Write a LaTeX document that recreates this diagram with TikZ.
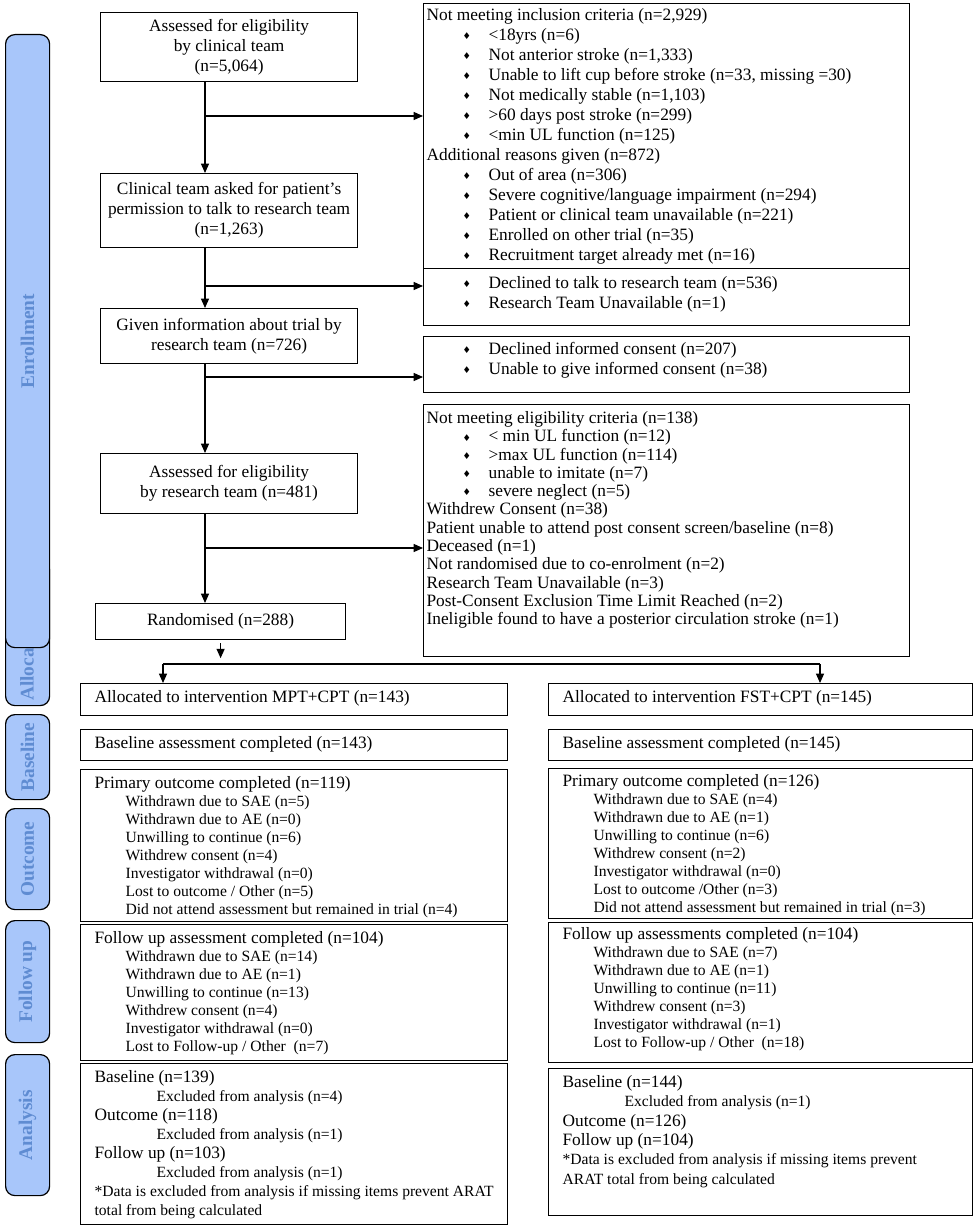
\documentclass[tikz,border=0pt]{standalone}
\usepackage{fontspec}
\setmainfont{Liberation Serif}
\newfontfamily\symfont{DejaVu Sans}
\usetikzlibrary{arrows.meta}

\newdimen\pxu \pxu=0.75pt
\definecolor{phasefill}{RGB}{168,198,250}
\definecolor{phasetext}{RGB}{95,140,210}

% text block of a box: [left pad]{width}{height}{first baseline}{lines}
\newcommand{\inbox}[5][14]{\parbox[c][#3\pxu][t]{#2\pxu}{\raggedright\leftskip=#1\pxu\rule{0pt}{#4\pxu}#5}}
\newcommand{\dmd}{\raisebox{0.6pt}{\symfont\fontsize{7}{7}\selectfont ♦}}
\newcommand{\bul}[1]{\hspace*{36\pxu}\makebox[26\pxu][l]{\dmd}#1\par}
\newcommand{\hd}[1]{{\fontsize{13}{13.5}\selectfont #1}\par}
\newcommand{\subl}[2][31]{\hspace*{#1\pxu}#2\par}

\begin{document}
\begin{tikzpicture}[x=0.75pt, y=-0.75pt,
	mainbox/.style={draw, line width=0.9pt, anchor=north west, align=center, inner sep=0pt, font=\fontsize{13}{15}\selectfont},
	listbox/.style={draw, line width=0.9pt, anchor=north west, inner sep=0pt, font=\fontsize{13}{15}\selectfont},
	armbox/.style={listbox, font=\fontsize{11.7}{13.5}\selectfont},
	phase/.style={draw, line width=0.9pt, rounded corners=7pt, fill=phasefill, anchor=north west, inner sep=0pt, minimum width=44\pxu},
	phaselabel/.style={rotate=90, text=phasetext, font=\fontsize{14.5}{16}\selectfont\bfseries},
	arr/.style={line width=0.9pt, -{Triangle[width=6pt,length=7pt]}}]
	\useasboundingbox (0,0) rectangle (974,1227);
	
	%phase bars on the left
	\node[phase, minimum height=145\pxu] (allocbar) at (5,560) {};
	\node[phaselabel, anchor=west, inner sep=0pt] (alloclbl) at (27,701) {Allocation};
	\node[phase, minimum height=613\pxu] (enrolbar) at (5,34) {};
	\node[phaselabel] (enrollbl) at (enrolbar.center) {Enrollment};
	\node[phase, minimum height=85\pxu] (basebar) at (5,714) {};
	\node[phaselabel] (baselbl) at (basebar.center) {Baseline};
	\node[phase, minimum height=101\pxu] (outbar) at (5,808) {};
	\node[phaselabel] (outlbl) at (outbar.center) {Outcome};
	\node[phase, minimum height=122\pxu] (folbar) at (5,920) {};
	\node[phaselabel] (follbl) at (folbar.center) {Follow up};
	\node[phase, minimum height=141\pxu] (anabar) at (5,1054) {};
	\node[phaselabel] (analbl) at (anabar.center) {Analysis};
	
	%enrollment steps
	\node[mainbox, minimum width=257\pxu, minimum height=69\pxu] (elig1) at (100,12) {Assessed for eligibility\\ by clinical team\\ (n=5,064)};
	\node[mainbox, minimum width=257\pxu, minimum height=74\pxu] (permit) at (100,173) {Clinical team asked for patient’s\\ permission to talk to research team\\ (n=1,263)};
	\node[mainbox, minimum width=257\pxu, minimum height=55\pxu] (given) at (100,308) {Given information about trial by\\ research team (n=726)};
	\node[mainbox, minimum width=257\pxu, minimum height=60\pxu] (elig2) at (100,453) {Assessed for eligibility\\ by research team (n=481)};
	\node[mainbox, minimum width=250\pxu, minimum height=36\pxu] (rand) at (95,603) {Randomised (n=288)};
	
	%exclusions
	\node[listbox] (exclA) at (423,3) {\inbox[3]{486}{265}{17}{%
		Not meeting inclusion criteria (n=2,929)\par
		\bul{<18yrs (n=6)}
		\bul{Not anterior stroke (n=1,333)}
		\bul{Unable to lift cup before stroke (n=33, missing =30)}
		\bul{Not medically stable (n=1,103)}
		\bul{>60 days post stroke (n=299)}
		\bul{<min UL function (n=125)}
		Additional reasons given (n=872)\par
		\bul{Out of area (n=306)}
		\bul{Severe cognitive/language impairment (n=294)}
		\bul{Patient or clinical team unavailable (n=221)}
		\bul{Enrolled on other trial (n=35)}
		\bul{Recruitment target already met (n=16)}}};
	\node[listbox] (exclB) at (423,268) {\inbox[3]{486}{57}{20}{%
		\bul{Declined to talk to research team (n=536)}
		\bul{Research Team Unavailable (n=1)}}};
	\node[listbox] (exclC) at (423,336) {\inbox[3]{486}{56}{18}{%
		\bul{Declined informed consent (n=207)}
		\bul{Unable to give informed consent (n=38)}}};
	\node[listbox, font=\fontsize{13}{13.7}\selectfont] (exclD) at (423,404) {\inbox[3]{486}{252}{19}{%
		Not meeting eligibility criteria (n=138)\par
		\bul{< min UL function (n=12)}
		\bul{>max UL function (n=114)}
		\bul{unable to imitate (n=7)}
		\bul{severe neglect (n=5)}
		Withdrew Consent (n=38)\par
		Patient unable to attend post consent screen/baseline (n=8)\par
		Deceased (n=1)\par
		Not randomised due to co-enrolment (n=2)\par
		Research Team Unavailable (n=3)\par
		Post-Consent Exclusion Time Limit Reached (n=2)\par
		Ineligible found to have a posterior circulation stroke (n=1)}};
	
	%MPT+CPT arm
	\node[armbox] (allocA) at (80,683) {\inbox{427}{32}{19}{\hd{Allocated to intervention MPT+CPT (n=143)}}};
	\node[armbox] (baseA) at (80,729) {\inbox{427}{31}{19}{\hd{Baseline assessment completed (n=143)}}};
	\node[armbox] (outA) at (80,769) {\inbox{427}{152}{19}{%
		\hd{Primary outcome completed (n=119)}
		\subl{Withdrawn due to SAE (n=5)}
		\subl{Withdrawn due to AE (n=0)}
		\subl{Unwilling to continue (n=6)}
		\subl{Withdrew consent (n=4)}
		\subl{Investigator withdrawal (n=0)}
		\subl{Lost to outcome / Other (n=5)}
		\subl{Did not attend assessment but remained in trial (n=4)}}};
	\node[armbox] (folA) at (80,924) {\inbox{427}{136}{19}{%
		\hd{Follow up assessment completed (n=104)}
		\subl{Withdrawn due to SAE (n=14)}
		\subl{Withdrawn due to AE (n=1)}
		\subl{Unwilling to continue (n=13)}
		\subl{Withdrew consent (n=4)}
		\subl{Investigator withdrawal (n=0)}
		\subl{Lost to Follow-up / Other~ (n=7)}}};
	\node[armbox, font=\fontsize{11.7}{14.25}\selectfont] (anaA) at (80,1063) {\inbox{427}{161}{19}{%
		\hd{Baseline (n=139)}
		\subl[62]{Excluded from analysis (n=4)}
		\hd{Outcome (n=118)}
		\subl[62]{Excluded from analysis (n=1)}
		\hd{Follow up (n=103)}
		\subl[62]{Excluded from analysis (n=1)}
		*Data is excluded from analysis if missing items prevent ARAT\par
		total from being calculated}};
	
	%FST+CPT arm
	\node[armbox] (allocB) at (548,683) {\inbox{424}{32}{19}{\hd{Allocated to intervention FST+CPT (n=145)}}};
	\node[armbox] (baseB) at (548,729) {\inbox{424}{31}{19}{\hd{Baseline assessment completed (n=145)}}};
	\node[armbox] (outB) at (548,768) {\inbox{424}{150}{18}{%
		\hd{Primary outcome completed (n=126)}
		\subl{Withdrawn due to SAE (n=4)}
		\subl{Withdrawn due to AE (n=1)}
		\subl{Unwilling to continue (n=6)}
		\subl{Withdrew consent (n=2)}
		\subl{Investigator withdrawal (n=0)}
		\subl{Lost to outcome /Other (n=3)}
		\subl{Did not attend assessment but remained in trial (n=3)}}};
	\node[armbox] (folB) at (548,922) {\inbox{424}{140}{17}{%
		\hd{Follow up assessments completed (n=104)}
		\subl{Withdrawn due to SAE (n=7)}
		\subl{Withdrawn due to AE (n=1)}
		\subl{Unwilling to continue (n=11)}
		\subl{Withdrew consent (n=3)}
		\subl{Investigator withdrawal (n=1)}
		\subl{Lost to Follow-up / Other~ (n=18)}}};
	\node[armbox, font=\fontsize{11.7}{14.5}\selectfont] (anaB) at (548,1068) {\inbox{424}{147}{19}{%
		\hd{Baseline (n=144)}
		\subl[62]{Excluded from analysis (n=1)}
		\hd{Outcome (n=126)}
		\hd{Follow up (n=104)}
		*Data is excluded from analysis if missing items prevent\par
		ARAT total from being calculated}};
	
	%flow arrows
	\coordinate (spine) at (205,0);
	\draw[arr] (elig1.south -| spine) -- (permit.north -| spine);
	\draw[arr] (permit.south -| spine) -- (given.north -| spine);
	\draw[arr] (given.south -| spine) -- (elig2.north -| spine);
	\draw[arr] (elig2.south -| spine) -- (rand.north -| spine);
	\coordinate (j1) at (205,116);
	\coordinate (j2) at (205,286);
	\coordinate (j3) at (205,377);
	\coordinate (j4) at (205,548);
	\draw[arr] (j1) -- (j1 -| exclA.west);
	\draw[arr] (j2) -- (j2 -| exclB.west);
	\draw[arr] (j3) -- (j3 -| exclC.west);
	\draw[arr] (j4) -- (j4 -| exclD.west);
	
	%split into the two arms
	\draw[arr, shorten <=3\pxu] (rand.south) -- ++(0,18);
	\coordinate (splitL) at (163,664);
	\coordinate (splitR) at (820,664);
	\draw[line width=0.9pt] (splitL) -- (splitR);
	\draw[arr] (splitL) -- (splitL |- allocA.north);
	\draw[arr] (splitR) -- (splitR |- allocB.north);
\end{tikzpicture}
\end{document}
